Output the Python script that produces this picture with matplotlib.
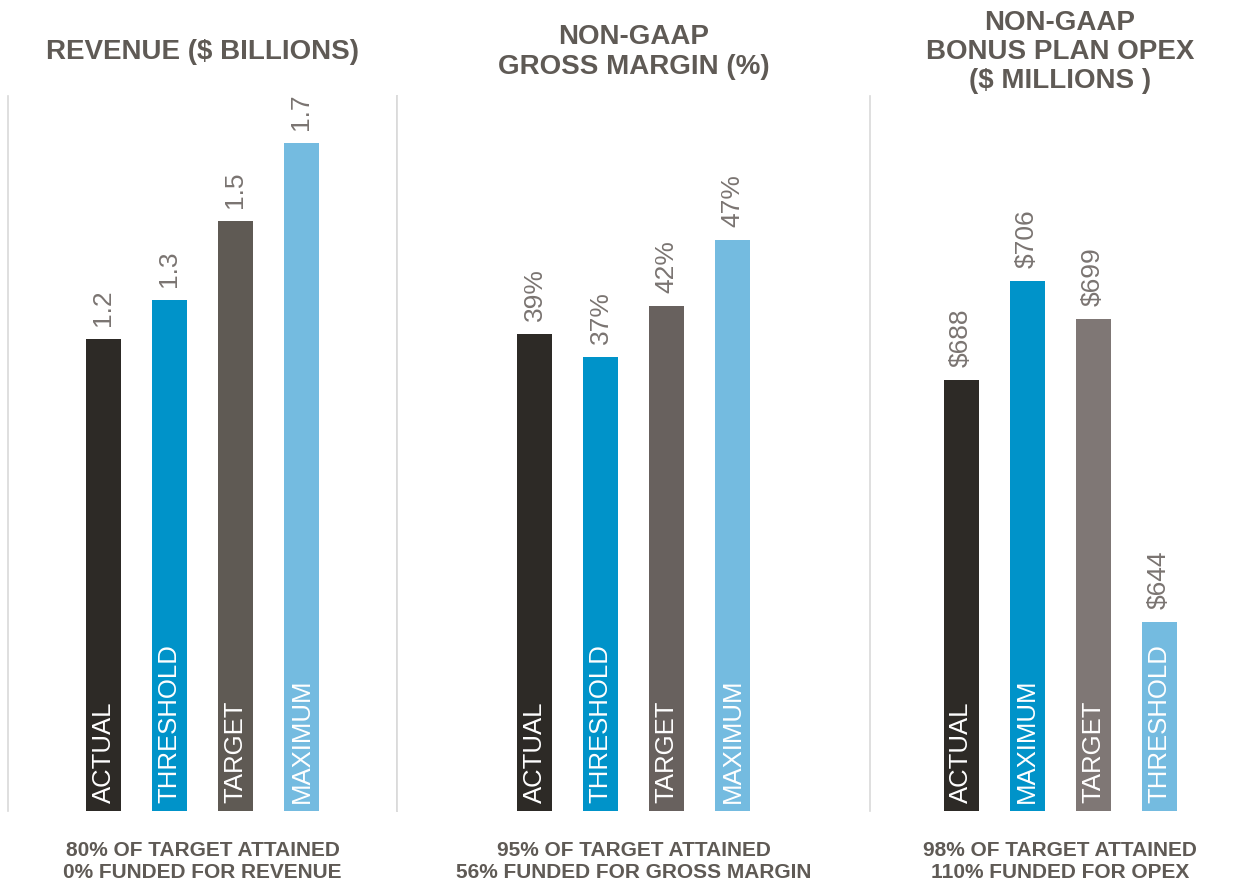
import matplotlib
matplotlib.use('Agg')
import matplotlib.pyplot as plt

plt.rcParams['font.family'] = ['Liberation Sans', 'DejaVu Sans']

# ----- data -----
rev_labels = ['ACTUAL', 'THRESHOLD', 'TARGET', 'MAXIMUM']
rev_values = [1.2, 1.3, 1.5, 1.7]
rev_text = ['1.2', '1.3', '1.5', '1.7']

gm_labels = ['ACTUAL', 'THRESHOLD', 'TARGET', 'MAXIMUM']
gm_values = [39.1, 37.2, 41.4, 46.8]
gm_text = ['39%', '37%', '42%', '47%']

opex_labels = ['ACTUAL', 'MAXIMUM', 'TARGET', 'THRESHOLD']
opex_values = [688, 706, 699, 644]
opex_text = ['$688', '$706', '$699', '$644']

titles = ['REVENUE ($ BILLIONS)',
          'NON-GAAP\nGROSS MARGIN (%)',
          'NON-GAAP\nBONUS PLAN OPEX\n($ MILLIONS )']
footers = ['80% OF TARGET ATTAINED\n0% FUNDED FOR REVENUE',
           '95% OF TARGET ATTAINED\n56% FUNDED FOR GROSS MARGIN',
           '98% OF TARGET ATTAINED\n110% FUNDED FOR OPEX']

DARK = '#2d2a26'
BLUE = '#0093c9'
LIGHT = '#74bbe0'
TEXT = '#5f5a55'
VAL = '#7a7471'

colors = [
    [DARK, BLUE, '#5f5a54', LIGHT],
    [DARK, BLUE, '#68615e', LIGHT],
    [DARK, BLUE, '#7f7775', LIGHT],
]

W, H = 1246, 881
fig = plt.figure(figsize=(W / 100, H / 100), dpi=100)

# panel extents in pixels (left, right), and y-limits
panels = [
    (8, 397, (0, 1.819), rev_labels, rev_values, rev_text),
    (397, 870, (0, 58.6), gm_labels, gm_values, gm_text),
    (870, 1246, (609.6, 739.6), opex_labels, opex_values, opex_text),
]
first_bar = [95.5, 137.5, 91]  # px from panel left to first bar centre
step = 66.0
bottom_px, top_px = 811, 96

for i, (l, r, ylim, labels, values, texts) in enumerate(panels):
    ax = fig.add_axes([l / W, (H - bottom_px) / H, (r - l) / W, (bottom_px - top_px) / H])
    x = list(range(len(values)))
    ax.bar(x, values, width=35 / step, color=colors[i])
    ax.set_ylim(*ylim)
    x0 = -first_bar[i] / step
    ax.set_xlim(x0, x0 + (r - l) / step)
    for xi, v, t, lab in zip(x, values, texts, labels):
        ax.annotate(t, xy=(xi, v), xytext=(0, 13), textcoords='offset pixels',
                    rotation=90, ha='center', va='bottom', color=VAL, fontsize=19)
        ax.annotate(lab, xy=(xi, ylim[0]), xytext=(0, 8), textcoords='offset pixels',
                    rotation=90, ha='center', va='bottom', color='white', fontsize=18.5)
    for s in ['top', 'bottom', 'right']:
        ax.spines[s].set_visible(False)
    if i == 0:
        ax.spines['right'].set_visible(True)
        ax.spines['right'].set_color('#d9d9d9')
    ax.spines['left'].set_color('#d9d9d9')
    ax.spines['left'].set_linewidth(1.2)
    ax.spines['right'].set_linewidth(1.2)
    ax.set_xticks([])
    ax.set_yticks([])

    cx = (l + r) / 2 if i < 2 else 1060
    fig.text(cx / W, 1 - 52 / H, titles[i], ha='center', va='center',
             fontsize=20, fontweight='bold', color=TEXT, linespacing=1.16)
    fig.text(cx / W, 1 - 861 / H, footers[i], ha='center', va='center',
             fontsize=15, fontweight='bold', color=TEXT, linespacing=1.2)

fig.savefig('out.png', dpi=100)
